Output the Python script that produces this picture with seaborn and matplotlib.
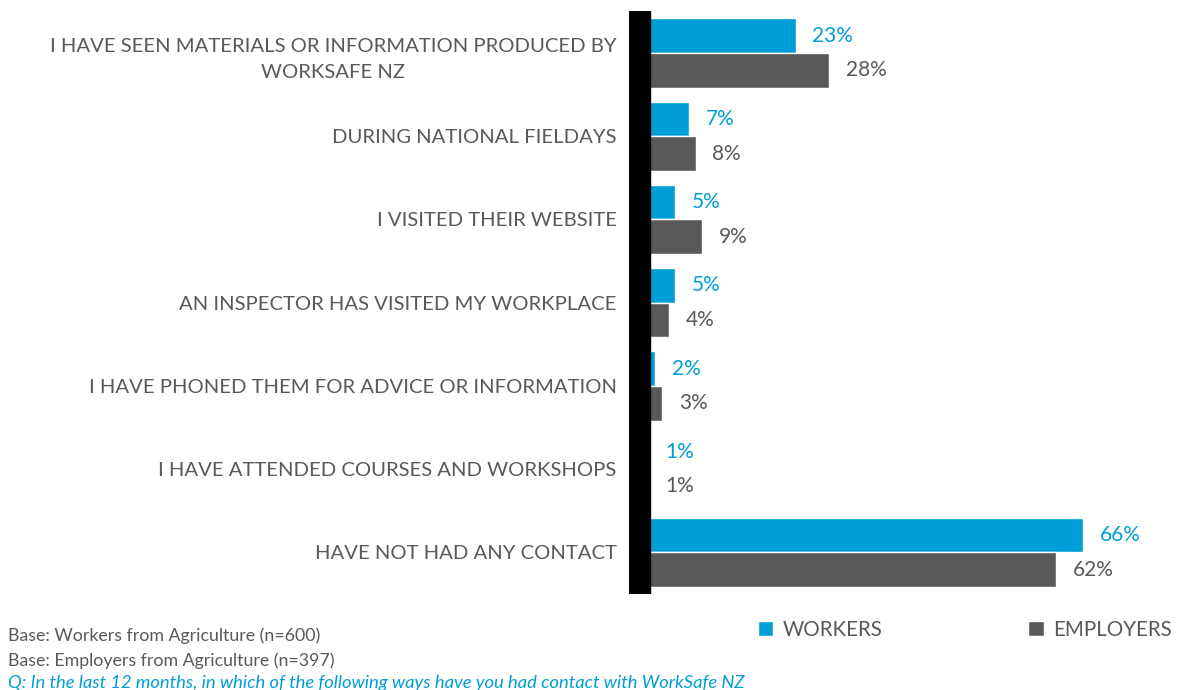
import pandas as pd
import seaborn as sns
import matplotlib.pyplot as plt

# Dados do gráfico
categorias = [
    "I HAVE SEEN MATERIALS OR INFORMATION PRODUCED BY\nWORKSAFE NZ",
    "DURING NATIONAL FIELDAYS",
    "I VISITED THEIR WEBSITE",
    "AN INSPECTOR HAS VISITED MY WORKPLACE",
    "I HAVE PHONED THEM FOR ADVICE OR INFORMATION",
    "I HAVE ATTENDED COURSES AND WORKSHOPS",
    "HAVE NOT HAD ANY CONTACT",
]
workers = [23, 7, 5, 5, 2, 1, 66]
employers = [28, 8, 9, 4, 3, 1, 62]
grupos = ["WORKERS", "EMPLOYERS"]
cores = ["#009ED8", "#595959"]

notas = [
    "Base: Workers from Agriculture (n=600)",
    "Base: Employers from Agriculture (n=397)",
]
pergunta = "Q: In the last 12 months, in which of the following ways have you had contact with WorkSafe NZ"

df = pd.DataFrame({
    "categoria": categorias * 2,
    "valor": workers + employers,
    "grupo": [grupos[0]] * len(categorias) + [grupos[1]] * len(categorias),
})

sns.set_style("white")
plt.rcParams["font.family"] = ["Lato", "DejaVu Sans"]

fig = plt.figure(figsize=(11.78, 6.90), dpi=100)
ax = fig.add_axes([0.534, 0.139, 0.466, 0.8445])

sns.barplot(data=df, y="categoria", x="valor", hue="grupo", orient="h",
            palette=cores, width=0.83, saturation=1, ax=ax, legend=True)

ax.set_xlim(-1.95, 80.2)
ax.set_ylim(6.5, -0.5)
ax.set_xlabel("")
ax.set_ylabel("")
ax.set_xticks([])
for s in ax.spines.values():
    s.set_visible(False)

# eixo vertical preto grosso
ax.axvspan(-1.95, 1.2, color="black", zorder=5)

ax.tick_params(axis="y", length=0, pad=9, labelsize=14.6, labelcolor="#595959")
for t in ax.get_yticklabels():
    t.set_multialignment("center")
    t.set_linespacing(1.65)

for cont, cor in zip(ax.containers, cores):
    ax.bar_label(cont, labels=[f"{v:.0f}%" for v in cont.datavalues],
                 padding=12, color=cor, fontsize=15)

ax.legend(loc="upper left", bbox_to_anchor=(0.22, -0.03), ncol=2,
          frameon=False, fontsize=14.8, handlelength=0.75, handleheight=0.75,
          handletextpad=0.45, columnspacing=7.1, borderaxespad=0,
          labelcolor="#595959")

fig.text(0.007, 0.078, notas[0], fontsize=12.8, color="#595959", va="center")
fig.text(0.007, 0.043, notas[1], fontsize=12.8, color="#595959", va="center")
fig.text(0.007, 0.010, pergunta, fontsize=13.2, color="#009ED8", va="center",
         style="italic")

fig.savefig("out.png", dpi=100)
